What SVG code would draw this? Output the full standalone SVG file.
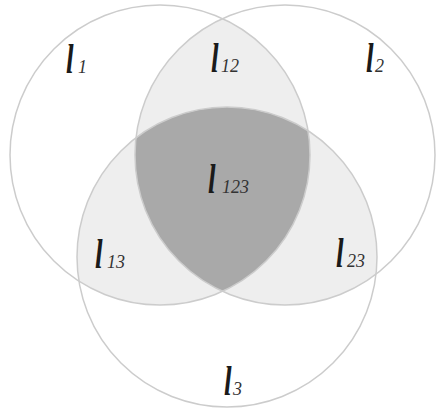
<svg xmlns="http://www.w3.org/2000/svg" width="437" height="414" viewBox="0 0 437 414">
<style>
.c{fill:none;stroke:#cccccc;stroke-width:1.5}
.lt{fill:#eeeeee}
.dk{fill:#a9a9a9}
.l{font-family:"Liberation Serif",serif;font-style:italic;font-weight:bold;font-size:42px;fill:#1a1a1a}
.s{font-family:"Liberation Serif",serif;font-style:italic;font-size:18px;fill:#333333}
</style>
<defs>
<clipPath id="k1"><circle cx="160" cy="155" r="150"/></clipPath>
<clipPath id="k2"><circle cx="285" cy="155" r="150"/></clipPath>
<clipPath id="k3"><circle cx="227" cy="257" r="150"/></clipPath>
</defs>
<rect width="437" height="414" fill="#ffffff"/>
<g id="regions">
<circle class="lt" cx="160" cy="155" r="150" clip-path="url(#k2)"/>
<circle class="lt" cx="160" cy="155" r="150" clip-path="url(#k3)"/>
<circle class="lt" cx="285" cy="155" r="150" clip-path="url(#k3)"/>
<g clip-path="url(#k3)"><circle class="dk" cx="160" cy="155" r="150" clip-path="url(#k2)"/></g>
</g>
<g id="circle1"><circle class="c" cx="160" cy="155" r="150"/><text class="l" transform="translate(66,73) scale(0.65,1)">l</text><text class="s" x="78" y="73">1</text></g>
<g id="circle2"><circle class="c" cx="285" cy="155" r="150"/><text class="l" transform="translate(366,72) scale(0.65,1)">l</text><text class="s" x="375" y="72">2</text></g>
<g id="circle3"><circle class="c" cx="227" cy="257" r="150"/><text class="l" transform="translate(224,395) scale(0.65,1)">l</text><text class="s" x="233" y="395">3</text></g>
<g id="label12"><text class="l" transform="translate(211,72) scale(0.65,1)">l</text><text class="s" x="221" y="72">12</text></g>
<g id="label13"><text class="l" transform="translate(95,268) scale(0.65,1)">l</text><text class="s" x="107" y="268">13</text></g>
<g id="label23"><text class="l" transform="translate(336,267) scale(0.65,1)">l</text><text class="s" x="347" y="267">23</text></g>
<g id="label123"><text class="l" transform="translate(208,193) scale(0.65,1)">l</text><text class="s" x="222" y="193">123</text></g>
</svg>
